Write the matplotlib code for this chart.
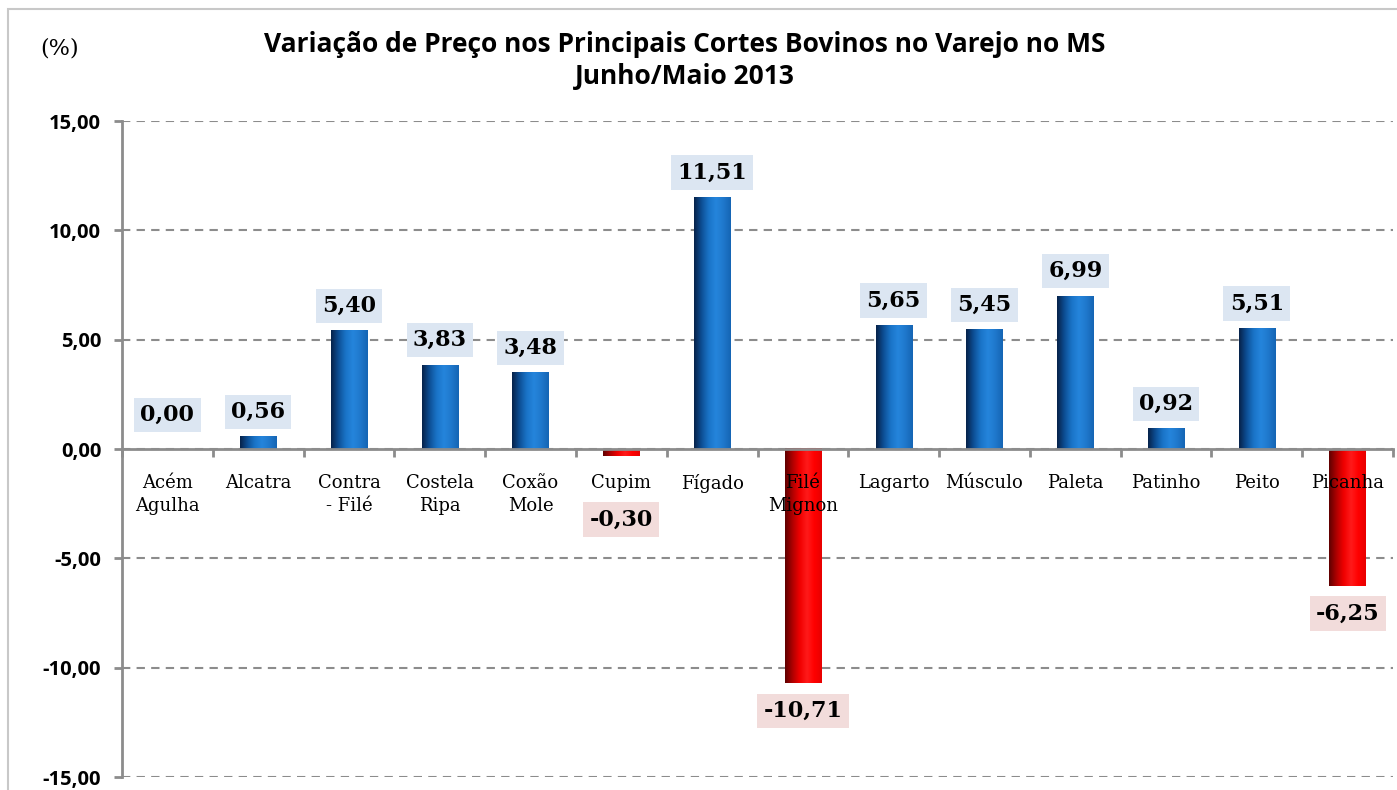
import numpy as np
import matplotlib.pyplot as plt
from matplotlib.colors import LinearSegmentedColormap
from matplotlib.patches import Rectangle

cortes = ["Acém\nAgulha", "Alcatra", "Contra\n- Filé", "Costela\nRipa", "Coxão\nMole",
          "Cupim", "Fígado", "Filé\nMignon", "Lagarto", "Músculo", "Paleta",
          "Patinho", "Peito", "Picanha"]
variacao = [0.00, 0.56, 5.40, 3.83, 3.48, -0.30, 11.51, -10.71, 5.65, 5.45, 6.99, 0.92, 5.51, -6.25]
yticks = [15, 10, 5, 0, -5, -10, -15]

def fmt(v):
    return f"{v:.2f}".replace(".", ",")

blue = LinearSegmentedColormap.from_list("b", ["#06224a", "#0d4f95", "#1a74c8", "#2585dc", "#1f78cc", "#1565b4"])
red = LinearSegmentedColormap.from_list("r", ["#600000", "#b00000", "#f00000", "#ff1a1a", "#ff0000", "#e80000"])
grad = np.linspace(0, 1, 64).reshape(1, -1)

fig = plt.figure(figsize=(13.97, 7.90), dpi=100)
fig.patches.append(Rectangle((8 / 1397, -0.05), 1.1, (790 - 9) / 790 + 0.05, transform=fig.transFigure,
                             fill=False, edgecolor="#c8c8c8", linewidth=1.5))
ax = fig.add_axes([122 / 1397, 13 / 790, 1271 / 1397, 656 / 790])

x = np.arange(len(cortes))
w = 0.4
for xi, v in zip(x, variacao):
    if v == 0:
        continue
    cmap = blue if v > 0 else red
    ax.imshow(grad, cmap=cmap, aspect="auto", extent=[xi - w / 2, xi + w / 2, min(0, v), max(0, v)],
              zorder=3, interpolation="bicubic")

# category names (drawn over the bars, like the original)
for xi, nome in zip(x, cortes):
    ax.annotate(nome, (xi, 0), xytext=(0, -18), textcoords="offset points", ha="center", va="top",
                fontsize=13, family="DejaVu Serif", linespacing=1.35, zorder=6)

for xi, v in zip(x, variacao):
    if v >= 0:
        off = 34 if v == 0 else 25
        ax.annotate(fmt(v), (xi, v), xytext=(0, off * 0.72), textcoords="offset points",
                    ha="center", va="center", fontsize=16, fontweight="bold", family="DejaVu Serif",
                    bbox=dict(boxstyle="square,pad=0.28", fc="#dce6f2", ec="none"), zorder=5)
    else:
        off = 64 if v > -1 else 28
        ax.annotate(fmt(v), (xi, v), xytext=(0, -off * 0.72), textcoords="offset points",
                    ha="center", va="center", fontsize=16, fontweight="bold", family="DejaVu Serif",
                    bbox=dict(boxstyle="square,pad=0.28", fc="#f2dcdb", ec="none"), zorder=5)

ax.set_xlim(-0.5, len(cortes) - 0.5)
ax.set_ylim(-15, 15)
ax.set_yticks(yticks)
ax.set_yticklabels([fmt(t) for t in yticks])
for t in ax.get_yticklabels():
    t.set_fontfamily("Open Sans")
    t.set_fontweight("bold")
    t.set_fontsize(14.5)
ax.yaxis.grid(True, linestyle=(0, (4, 3)), color="#8c8c8c", linewidth=1.5, zorder=1)
ax.set_axisbelow(True)

ax.set_xticks(np.arange(len(cortes) + 1) - 0.5)
ax.set_xticklabels([])
ax.tick_params(axis="x", length=6, width=2, color="#8c8c8c", direction="out")
ax.tick_params(axis="y", length=6, width=2, color="#8c8c8c", pad=9)

for s in ["top", "right"]:
    ax.spines[s].set_visible(False)
ax.spines["bottom"].set_position(("data", 0))
ax.spines["bottom"].set_color("#8c8c8c")
ax.spines["bottom"].set_linewidth(2)
ax.spines["bottom"].set_zorder(4)
ax.spines["left"].set_color("#8c8c8c")
ax.spines["left"].set_linewidth(2)

fig.text(685 / 1397, 1 - 44 / 790, "Variação de Preço nos Principais Cortes Bovinos no Varejo no MS",
         ha="center", va="center", fontsize=19, fontweight="bold", family="Open Sans")
fig.text(685 / 1397, 1 - 77 / 790, "Junho/Maio 2013",
         ha="center", va="center", fontsize=19, fontweight="bold", family="Open Sans")
fig.text(60 / 1397, 1 - 48 / 790, "(%)", ha="center", va="center", fontsize=16, family="DejaVu Serif")

fig.savefig("out.png", dpi=100)
